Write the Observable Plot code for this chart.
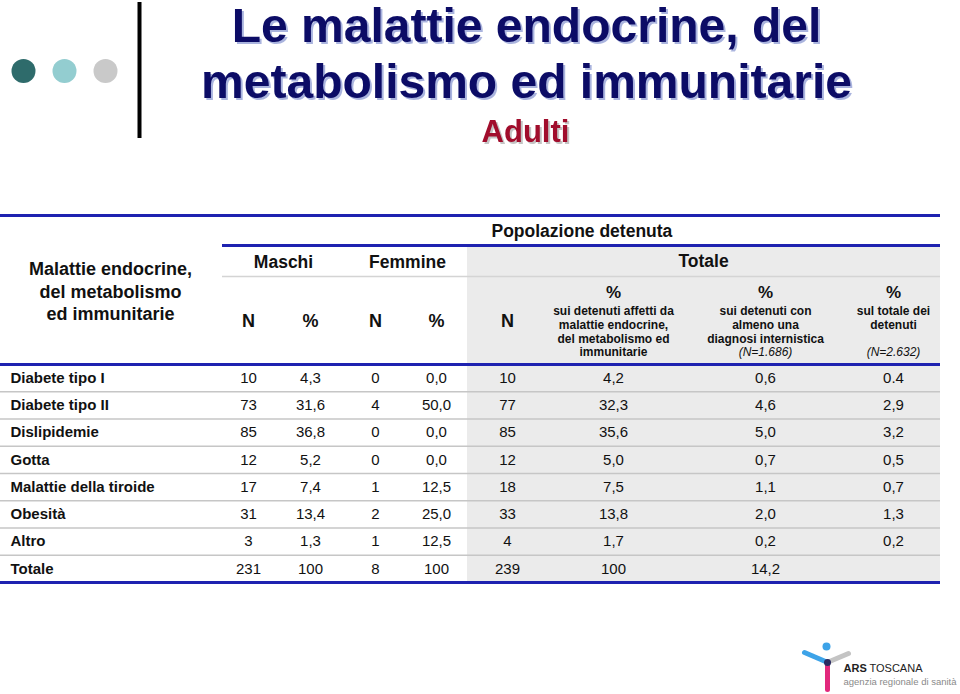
<!DOCTYPE html>
<html><head><meta charset="utf-8">
<script src="https://cdn.jsdelivr.net/npm/d3@7"></script>
<script src="https://cdn.jsdelivr.net/npm/@observablehq/plot@0.6"></script>
<style>body{margin:0;background:#fff}</style>
</head><body><div id="chart"></div>
<script>
// ---------- data ----------
const categories = ["Diabete tipo I","Diabete tipo II","Dislipidemie","Gotta","Malattie della tiroide","Obesità","Altro","Totale"];
const maschiN     = [10, 73, 85, 12, 17, 31, 3, 231];
const maschiPct   = ["4,3","31,6","36,8","5,2","7,4","13,4","1,3","100"];
const femmineN    = [0, 4, 0, 0, 1, 2, 1, 8];
const femminePct  = ["0,0","50,0","0,0","0,0","12,5","25,0","12,5","100"];
const totaleN     = [10, 77, 85, 12, 18, 33, 4, 239];
const pctAffetti  = ["4,2","32,3","35,6","5,0","7,5","13,8","1,7","100"];
const pctDiagnosi = ["0,6","4,6","5,0","0,7","1,1","2,0","0,2","14,2"];
const pctTotale   = ["0.4","2,9","3,2","0,5","0,7","1,3","0,2",""];

const titleLines = ["Le malattie endocrine, del", "metabolismo ed immunitarie"];
const subtitle = "Adulti";
const rowHeader = "Malattie endocrine,\ndel metabolismo\ned immunitarie";
const topHeader = "Popolazione detenuta";
const groupHeaders = ["Maschi", "Femmine", "Totale"];
const subHeaders = ["N", "%", "N", "%", "N"];
const pctHeaders = [
  ["sui detenuti affetti da", "malattie endocrine,", "del metabolismo ed", "immunitarie"],
  ["sui detenuti con", "almeno una", "diagnosi internistica"],
  ["sul totale dei", "detenuti"]
];
const pctNotes = ["", "(N=1.686)", "(N=2.632)"];
const logoName = ["ARS", "TOSCANA"];
const logoSub = "agenzia regionale di sanità";

// ---------- layout ----------
const FONT = "'Liberation Sans', Arial, Helvetica, sans-serif";
const BLUE = "#1e22b0";
const columns = [
  {vals: maschiN, x: 248}, {vals: maschiPct, x: 310},
  {vals: femmineN, x: 375}, {vals: femminePct, x: 436},
  {vals: totaleN, x: 507}, {vals: pctAffetti, x: 613},
  {vals: pctDiagnosi, x: 765}, {vals: pctTotale, x: 893}
];
const rowBand = d3.scaleBand().domain(categories).range([364, 582]);
const rowY = c => rowBand(c) + rowBand.bandwidth() / 2;

const cells = categories.flatMap((c, i) => columns.map(col => ({x: col.x, y: rowY(c), label: String(col.vals[i])})));
const rowLabels = categories.map(c => ({x: 10, y: rowY(c), label: c}));
const separators = categories.slice(1).map(c => ({y: rowBand(c)}));

const groupPos = [{x: 283, y: 262}, {x: 407, y: 262}, {x: 703, y: 261}];
const subPos = [248, 310, 375, 436, 507];
const pctCols = [613, 765, 893];
const pctLines = pctHeaders.flatMap((lines, j) => lines.map((t, k) => ({x: pctCols[j], y: 311 + k * 13.7, label: t})));
const pctNoteRows = pctNotes.map((t, j) => ({x: pctCols[j], y: 352, label: t}));

const dots = [{x: 23, c: "#2e6b6b"}, {x: 64, c: "#93cdd0"}, {x: 105, c: "#c9c9c9"}];

const plot = Plot.plot({
  width: 960, height: 694, margin: 0,
  x: {domain: [0, 960], range: [0, 960], axis: null},
  y: {domain: [0, 694], range: [0, 694], axis: null},
  style: {fontFamily: FONT, background: "#fff", overflow: "visible"},
  marks: [
    // decorative header
    Plot.dot(dots, {x: "x", y: () => 70.5, r: 12, fill: "c", stroke: null}),
    Plot.ruleX([139], {y1: 2, y2: 138, stroke: "#000", strokeWidth: 4}),
    Plot.text(titleLines, {x: () => 526, y: (d, i) => [41, 97][i], text: d => d, lineAnchor: "bottom", fontSize: 48, fontWeight: "bold", fill: "#0c0c66", ariaDescription: "title"}),
    Plot.text([subtitle], {x: () => 525, y: () => 141, text: d => d, lineAnchor: "bottom", fontSize: 31, fontWeight: "bold", fill: "#a10d2c", ariaDescription: "subtitle"}),

    // table background and rules
    Plot.rect([0], {x1: 467, x2: 940, y1: 247, y2: 582, fill: "#ebebeb"}),
    Plot.ruleY(separators, {y: "y", x1: 0, x2: 940, stroke: "#c6c6c6", strokeWidth: 1.5}),
    Plot.ruleY([276], {x1: 222, x2: 940, stroke: "#d4d4d4", strokeWidth: 1.5}),
    Plot.ruleY([215, 364, 582], {x1: 0, x2: 940, stroke: BLUE, strokeWidth: 3}),
    Plot.ruleY([245], {x1: 222, x2: 940, stroke: BLUE, strokeWidth: 3}),

    // headers
    Plot.text([topHeader], {x: () => 491, y: () => 231, text: d => d, textAnchor: "start", fontSize: 17.5, fontWeight: "bold", fill: "#111"}),
    Plot.text([rowHeader], {x: () => 110, y: () => 290, text: d => d, fontSize: 18, lineHeight: 1.25, fontWeight: "bold", fill: "#111"}),
    Plot.text(groupHeaders, {x: (d, i) => groupPos[i].x, y: (d, i) => groupPos[i].y, text: d => d, fontSize: 17.5, fontWeight: "bold", fill: "#111"}),
    Plot.text(subHeaders, {x: (d, i) => subPos[i], y: () => 321, text: d => d, fontSize: 18, fontWeight: "bold", fill: "#111"}),
    Plot.text(pctCols, {x: d => d, y: () => 292, text: () => "%", fontSize: 17, fontWeight: "bold", fill: "#111"}),
    Plot.text(pctLines, {x: "x", y: "y", text: "label", fontSize: 12, fontWeight: "bold", fill: "#111"}),
    Plot.text(pctNoteRows, {x: "x", y: "y", text: "label", fontSize: 12, fontStyle: "italic", fill: "#111"}),

    // body
    Plot.text(rowLabels, {x: "x", y: "y", text: "label", textAnchor: "start", fontSize: 15, fontWeight: "bold", fill: "#111"}),
    Plot.text(cells, {x: "x", y: "y", text: "label", fontSize: 15, fill: "#111"}),

    // logo
    Plot.link([0], {x1: 804, y1: 652, x2: 825, y2: 661, stroke: "#3da3e8", strokeWidth: 5, strokeLinecap: "round"}),
    Plot.link([0], {x1: 829, y1: 661, x2: 848, y2: 653, stroke: "#c4c4c4", strokeWidth: 5, strokeLinecap: "round"}),
    Plot.link([0], {x1: 827, y1: 664, x2: 827, y2: 689, stroke: "#e2287c", strokeWidth: 5, strokeLinecap: "round"}),
    Plot.dot([0], {x: () => 827, y: () => 662, r: 3.5, fill: "#2a2a60"}),
    Plot.dot([0], {x: () => 826, y: () => 646, r: 4, fill: "#3da3e8"}),
    Plot.text([logoName[0]], {x: () => 843, y: () => 668, text: d => d, textAnchor: "start", fontSize: 11, fontWeight: "bold", fill: "#222"}),
    Plot.text([logoName[1]], {x: () => 869, y: () => 668, text: d => d, textAnchor: "start", fontSize: 11, fill: "#222"}),
    Plot.text([logoSub], {x: () => 843, y: () => 681, text: d => d, textAnchor: "start", fontSize: 9.5, fill: "#8a8a8a"})
  ]
});
document.getElementById("chart").appendChild(plot);
// text shadows (as in the original slide)
d3.select(plot).selectAll('[aria-description="title"]').style("filter", "drop-shadow(2px 2px 0 #aab4de)");
d3.select(plot).selectAll('[aria-description="subtitle"]').style("filter", "drop-shadow(2px 2px 0 #c4c4c4)");
</script>
</body></html>
